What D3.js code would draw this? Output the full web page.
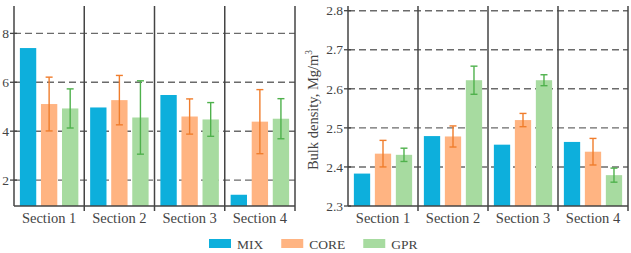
<!DOCTYPE html>
<html><head><meta charset="utf-8">
<script src="https://cdn.jsdelivr.net/npm/d3@7"></script>
<style>
body{margin:0;background:#fff;}
svg{display:block;font-family:"Liberation Serif","DejaVu Serif",serif;}
</style></head>
<body><svg id="c" width="631" height="253"></svg>
<script>
const sections = ["Section 1","Section 2","Section 3","Section 4"];
const seriesNames = ["MIX","CORE","GPR"];
// Left panel values (no axis title visible)
const leftMIX  = [7.4, 4.97, 5.48, 1.40];
const leftCORE = [5.11, 5.27, 4.60, 4.39];
const leftCOREerr = [1.10, 1.01, 0.72, 1.31];
const leftGPR  = [4.93, 4.56, 4.48, 4.51];
const leftGPRerr = [0.80, 1.50, 0.69, 0.82];
const leftTicks = [2,4,6,8];
// Right panel: bulk density
const rightMIX  = [2.383, 2.479, 2.457, 2.464];
const rightCORE = [2.434, 2.478, 2.520, 2.439];
const rightCOREerr = [0.034, 0.027, 0.017, 0.034];
const rightGPR  = [2.431, 2.622, 2.622, 2.379];
const rightGPRerr = [0.017, 0.036, 0.014, 0.018];
const rightTicks = [2.3,2.4,2.5,2.6,2.7,2.8];
const rightTitle = "Bulk density, Mg/m";

const colors = {MIX:"#0DAFDC", CORE:"#FFB482", GPR:"#A7DBA0"};
const errColors = {CORE:"#F07D2C", GPR:"#4FB14C"};
const axisCol = "#444";
const gridCol = "#6b6b6b";

const svg = d3.select("#c");

function panel(opts){
  const {x0,x1,yDomain,ticks,fmt,mix,core,coreErr,gpr,gprErr} = opts;
  const top = 6, bottom = 206;
  const g = svg.append("g");
  const x = d3.scaleBand().domain(sections).range([x0,x1]);
  const xs = d3.scaleBand().domain(seriesNames).range([0,x.bandwidth()]).paddingInner(0.224).paddingOuter(0.28);
  const y = d3.scaleLinear().domain(yDomain).range([bottom, top]);

  // gridlines
  g.append("g").selectAll("line").data(ticks.filter(t=>y(t)<bottom-1)).join("line")
    .attr("x1",x0).attr("x2",x1).attr("y1",d=>y(d)).attr("y2",d=>y(d))
    .attr("stroke",gridCol).attr("stroke-width",1.4).attr("stroke-dasharray","7,4");

  const rows = sections.map((s,i)=>({s, vals:{MIX:mix[i],CORE:core[i],GPR:gpr[i]}, err:{CORE:coreErr[i],GPR:gprErr[i]}}));
  // bars
  rows.forEach(r=>{
    seriesNames.forEach(n=>{
      g.append("rect").attr("x",x(r.s)+xs(n)).attr("width",xs.bandwidth())
        .attr("y",y(r.vals[n])).attr("height",bottom-y(r.vals[n]))
        .attr("fill",colors[n]);
    });
  });
  // error bars
  rows.forEach(r=>{
    ["CORE","GPR"].forEach(n=>{
      const cx = x(r.s)+xs(n)+xs.bandwidth()/2;
      const hi = y(r.vals[n]+r.err[n]), lo = y(r.vals[n]-r.err[n]);
      const e = g.append("g").attr("stroke",errColors[n]).attr("stroke-width",1.4);
      e.append("line").attr("x1",cx).attr("x2",cx).attr("y1",hi).attr("y2",lo);
      e.append("line").attr("x1",cx-3.5).attr("x2",cx+3.5).attr("y1",hi).attr("y2",hi);
      e.append("line").attr("x1",cx-3.5).attr("x2",cx+3.5).attr("y1",lo).attr("y2",lo);
    });
  });
  // separators / frame
  const bounds = sections.map(s=>x(s)).concat([x1]);
  g.append("g").selectAll("line").data(bounds).join("line")
    .attr("x1",d=>d).attr("x2",d=>d).attr("y1",top)
    .attr("y2",(d,i)=> (i>0 ? bottom+5 : bottom))
    .attr("stroke",axisCol).attr("stroke-width",1.5);
  // x axis line
  g.append("line").attr("x1",x0).attr("x2",x1).attr("y1",bottom).attr("y2",bottom)
    .attr("stroke",axisCol).attr("stroke-width",1.5);
  // y ticks
  const yt = g.append("g");
  yt.selectAll("line").data(ticks).join("line")
    .attr("x1",x0-4).attr("x2",x0+3).attr("y1",d=>y(d)).attr("y2",d=>y(d))
    .attr("stroke",axisCol).attr("stroke-width",1.3);
  yt.selectAll("text").data(ticks).join("text")
    .attr("x",x0-5).attr("y",d=>y(d)).attr("dy","0.35em")
    .attr("text-anchor","end").attr("font-size",13.5).attr("fill","#444")
    .text(fmt);
  // x labels
  g.append("g").selectAll("text").data(sections).join("text")
    .attr("x",d=>x(d)+x.bandwidth()/2).attr("y",bottom+17)
    .attr("text-anchor","middle").attr("font-size",14.5).attr("fill","#444")
    .text(d=>d);
  return {g,y};
}

panel({x0:14,x1:295,yDomain:[0.94,9.12],ticks:leftTicks,fmt:d=>d3.format("d")(d),
  mix:leftMIX,core:leftCORE,coreErr:leftCOREerr,gpr:leftGPR,gprErr:leftGPRerr});
panel({x0:348,x1:628,yDomain:[2.3,2.812],ticks:rightTicks,fmt:d=>d3.format(".1f")(d),
  mix:rightMIX,core:rightCORE,coreErr:rightCOREerr,gpr:rightGPR,gprErr:rightGPRerr});

// right y title
const t = svg.append("text").attr("transform","translate(317.5,110) rotate(-90)")
  .attr("text-anchor","middle").attr("font-size",14.5).attr("fill","#444");
t.append("tspan").text(rightTitle);
t.append("tspan").attr("font-size",9.5).attr("dy","-0.6em").text("3");

// legend
let lx = 209;
const leg = svg.append("g");
seriesNames.forEach(n=>{
  leg.append("rect").attr("x",lx).attr("y",239).attr("width",22).attr("height",9).attr("fill",colors[n]);
  const tx = leg.append("text").attr("x",lx+28).attr("y",244).attr("dy","0.35em")
    .attr("font-size",13.5).attr("fill","#444").text(n);
  lx = lx + 28 + tx.node().getComputedTextLength() + 18;
});
</script></body></html>
